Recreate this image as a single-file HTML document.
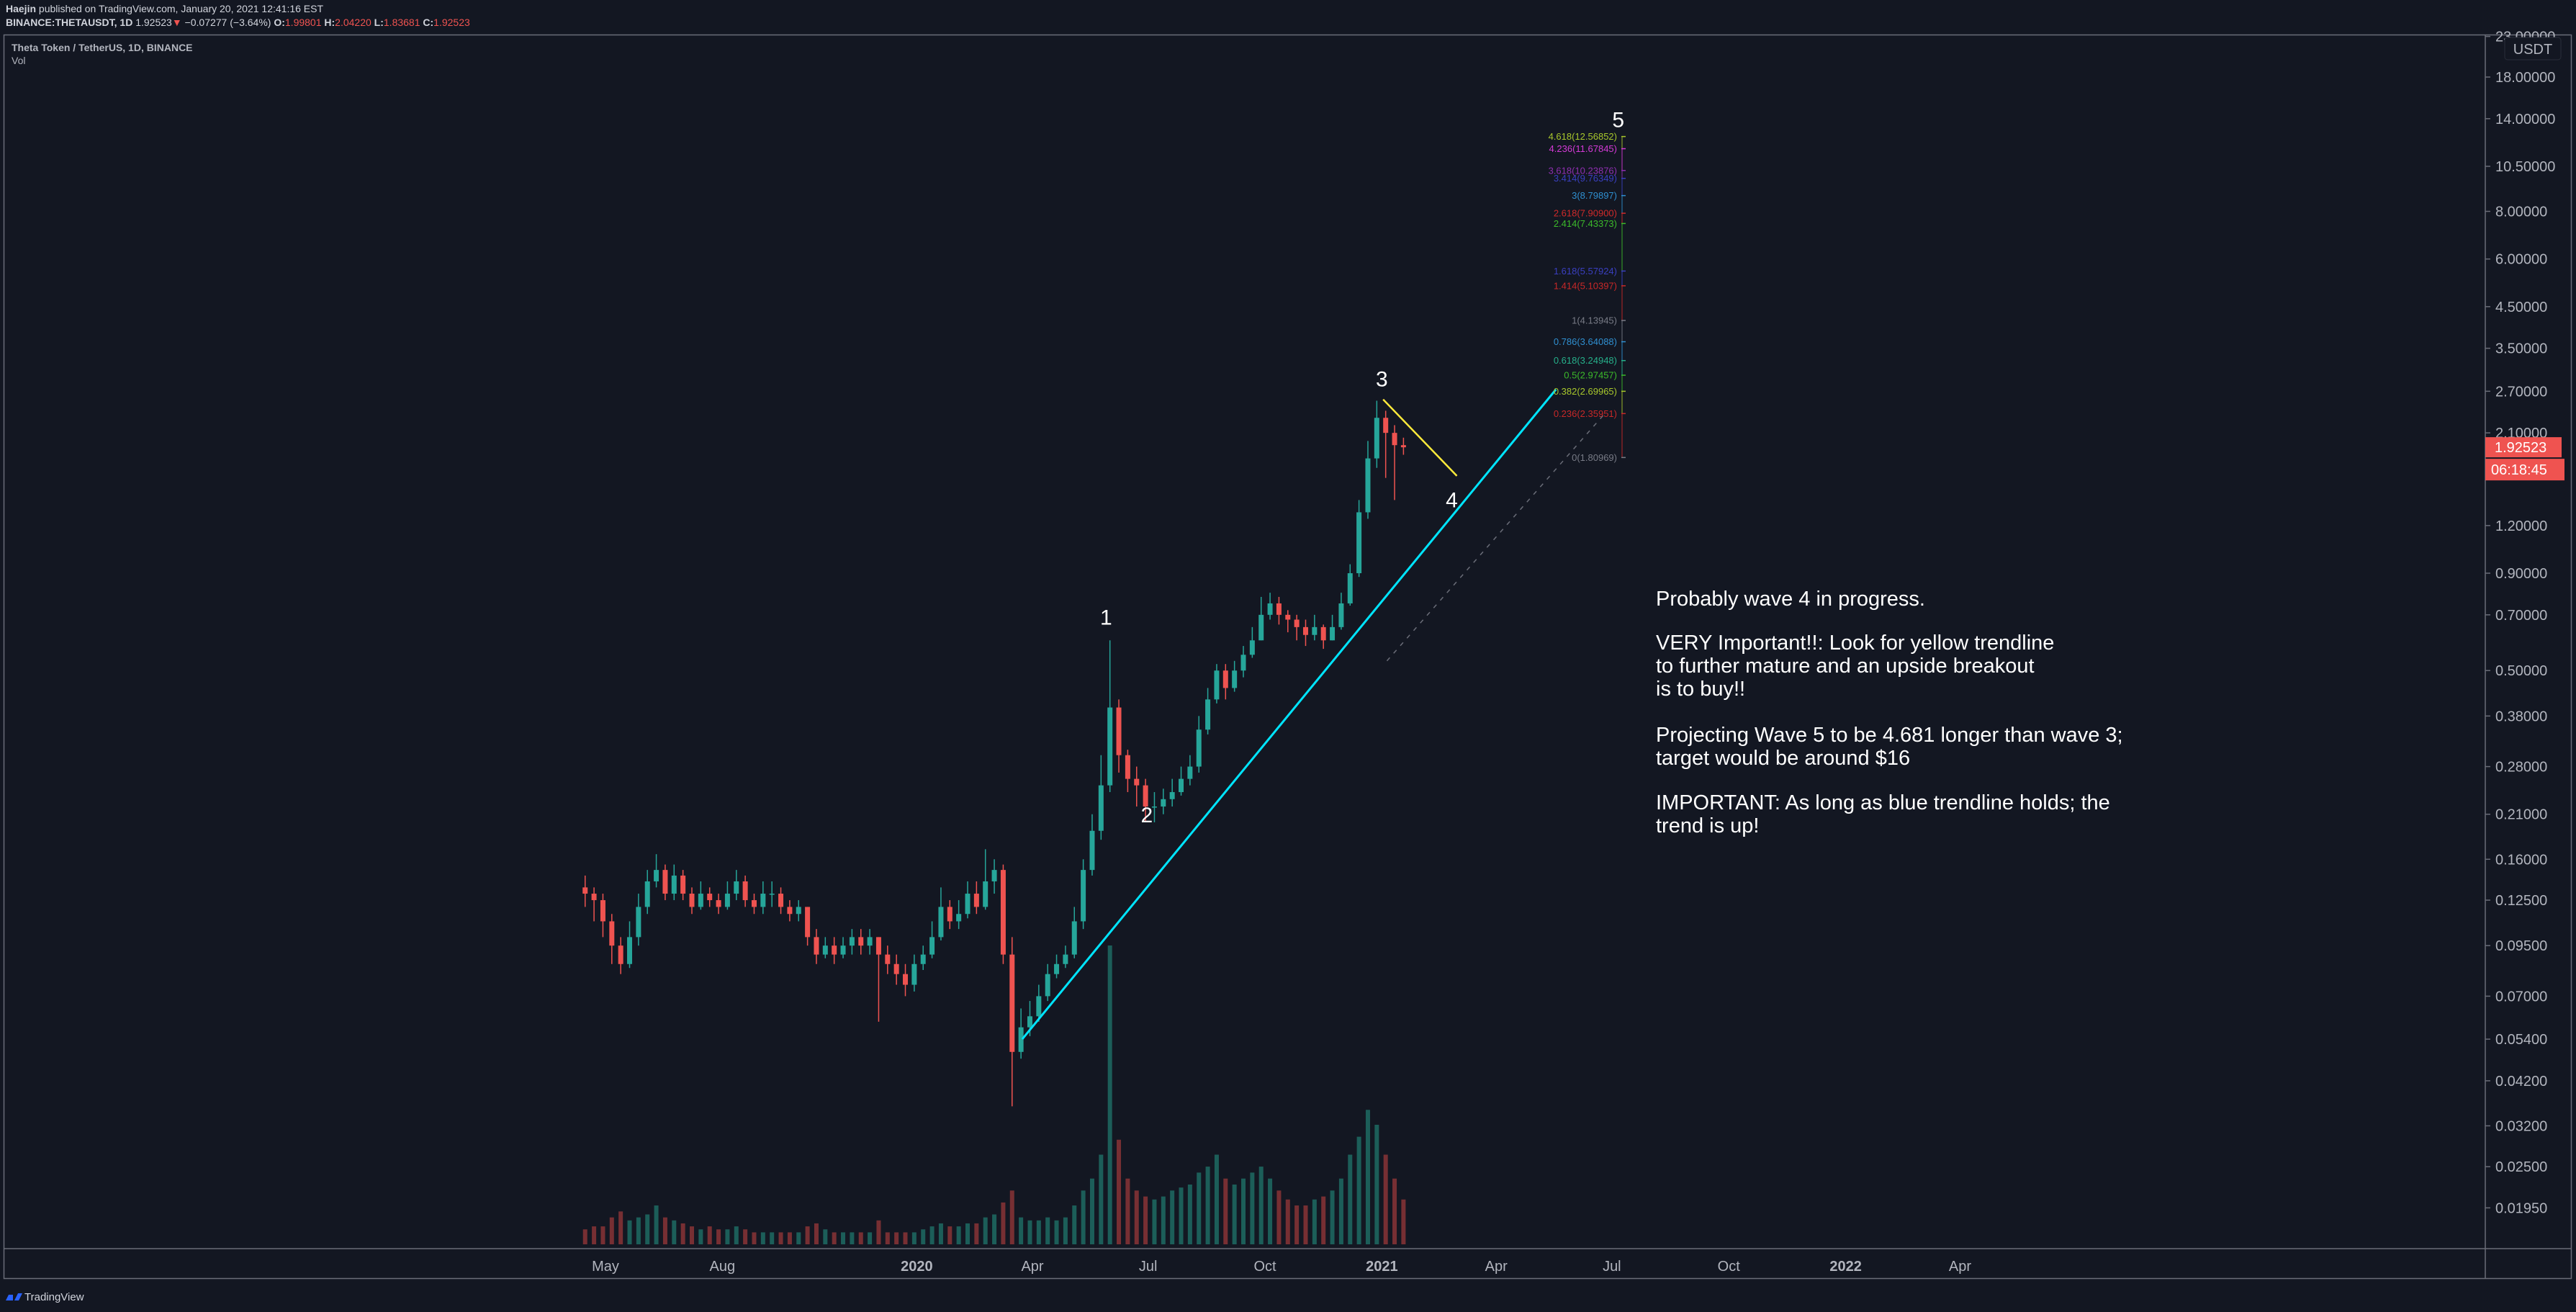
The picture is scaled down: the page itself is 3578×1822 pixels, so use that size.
<!DOCTYPE html>
<html><head><meta charset="utf-8"><style>
html,body{margin:0;padding:0;background:#131722;}
svg{display:block;font-family:"Liberation Sans",sans-serif;}
</style></head><body>
<svg id="chart" width="3578" height="1822" viewBox="0 0 3578 1822" xmlns="http://www.w3.org/2000/svg">
<rect x="0" y="0" width="3578" height="1822" fill="#131722"/>
<text x="8" y="17" font-size="14" fill="#d1d4dc"><tspan font-weight="bold">Haejin</tspan> published on TradingView.com, January 20, 2021 12:41:16 EST</text>
<text x="8" y="36" font-size="14" fill="#d1d4dc"><tspan font-weight="bold">BINANCE:THETAUSDT, 1D</tspan> 1.92523<tspan fill="#ef5350">▼</tspan> −0.07277 (−3.64%) <tspan font-weight="bold">O:</tspan><tspan fill="#ef5350">1.99801</tspan> <tspan font-weight="bold">H:</tspan><tspan fill="#ef5350">2.04220</tspan> <tspan font-weight="bold">L:</tspan><tspan fill="#ef5350">1.83681</tspan> <tspan font-weight="bold">C:</tspan><tspan fill="#ef5350">1.92523</tspan></text>
<rect x="5.5" y="48.5" width="3566" height="1727" fill="none" stroke="#6a6d78" stroke-width="1.5"/>
<line x1="3452" y1="49" x2="3452" y2="1775" stroke="#6a6d78" stroke-width="1.5"/>
<line x1="6" y1="1734" x2="3571" y2="1734" stroke="#6a6d78" stroke-width="1.5"/>
<text x="16" y="71" font-size="14" font-weight="bold" fill="#b2b5be">Theta Token / TetherUS, 1D, BINANCE</text>
<text x="16" y="89" font-size="14" fill="#b2b5be">Vol</text>
<g id="vol"></g>
<g id="candles"></g>
<g id="lines"></g>
<g id="fib"></g>
<g id="yaxis"></g>
<g id="xaxis"></g>
<g font-size="29" fill="#ffffff">
<text x="2300" y="841">Probably wave 4 in progress.</text>
<text x="2300" y="902">VERY Important!!: Look for yellow trendline</text>
<text x="2300" y="934">to further mature and an upside breakout</text>
<text x="2300" y="966">is to buy!!</text>
<text x="2300" y="1030">Projecting Wave 5 to be 4.681 longer than wave 3;</text>
<text x="2300" y="1062">target would be around $16</text>
<text x="2300" y="1124">IMPORTANT: As long as blue trendline holds; the</text>
<text x="2300" y="1156">trend is up!</text>
</g>
<g>
<path d="M8 1806 h10 v-8 h-6 z M20 1806 l5 -10 h6 l-5 10 z" fill="#2962ff"/>
<text x="34" y="1806" font-size="15" fill="#d1d4dc">TradingView</text>
</g>
</svg>
<script>
const closes=[0.13,0.125,0.11, 0.095,0.085,0.10,0.12, 0.14,0.15,0.13,0.145,0.13, 0.12,0.13,0.125,0.12, 0.13,0.14,0.125,0.12,0.13, 0.13,0.12,0.115,0.12, 0.10,0.09,0.095,0.09,0.095, 0.1,0.095,0.1,0.09, 0.085,0.08,0.075,0.085, 0.09,0.1,0.12,0.11, 0.115,0.13,0.12,0.14, 0.15,0.09,0.05,0.058,0.062, 0.07,0.08,0.085,0.09, 0.11,0.15,0.19,0.25, 0.4,0.3,0.26,0.25,0.22, 0.22,0.23,0.24,0.26, 0.28,0.35,0.42,0.5, 0.45,0.5,0.55,0.6,0.7, 0.75,0.7,0.68,0.65, 0.62,0.65,0.6,0.65, 0.75,0.9,1.3,1.8, 2.3,2.1,1.95,1.925];
const highs=[0.145,0.135,0.13, 0.115,0.1,0.11,0.13, 0.15,0.165,0.155,0.155,0.15, 0.135,0.14,0.135,0.13, 0.14,0.15,0.145,0.13,0.14, 0.14,0.135,0.125,0.125, 0.12,0.105,0.1,0.1,0.1, 0.105,0.105,0.105,0.1, 0.095,0.09,0.085,0.09, 0.095,0.11,0.135,0.125, 0.125,0.14,0.14,0.17, 0.16,0.155,0.1,0.065,0.068, 0.075,0.085,0.09,0.095, 0.12,0.16,0.21,0.3, 0.6,0.42,0.31,0.28,0.26, 0.24,0.245,0.26,0.28, 0.3,0.38,0.45,0.52, 0.52,0.53,0.58,0.65,0.78, 0.8,0.78,0.72,0.7, 0.68,0.7,0.66,0.7, 0.8,0.95,1.4,2.0, 2.55,2.4,2.2,2.04];
const lows=[0.12,0.11,0.1, 0.085,0.08,0.083,0.095, 0.115,0.135,0.125,0.125,0.125, 0.115,0.118,0.12,0.115, 0.118,0.125,0.12,0.115,0.115, 0.12,0.115,0.11,0.11, 0.095,0.085,0.088,0.085,0.088, 0.09,0.09,0.09,0.06, 0.08,0.075,0.07,0.072, 0.082,0.088,0.098,0.105, 0.105,0.112,0.115,0.118, 0.13,0.085,0.036,0.048,0.055, 0.06,0.068,0.078,0.083, 0.088,0.105,0.145,0.18, 0.24,0.27,0.24,0.22,0.2, 0.2,0.21,0.22,0.235, 0.25,0.27,0.34,0.41, 0.42,0.44,0.48,0.54,0.6, 0.68,0.66,0.63,0.6, 0.58,0.6,0.57,0.6, 0.64,0.74,0.88,1.25, 1.7,1.6,1.4,1.84];
const volumes=[5,6,6, 9,11,8,9, 10,13,9,8,7, 6,5,6,5, 5,6,5,4,4, 4,4,4,4, 6,7,5,4,4, 4,4,4,8, 4,4,4,4, 5,6,7,6, 6,7,7,9, 10,14,18,9,8, 8,9,8,9, 13,18,22,30, 100,35,22,18,16, 15,16,18,19, 20,24,26,30, 22,20,22,24,26, 22,18,15,13, 13,15,16,18, 22,30,36,45, 40,30,22,15];
const firstOpen=0.135;
const startDate="2019-04-12";
const priceTicks=[23,18,14,10.5,8,6,4.5,3.5,2.7,2.1,1.2,0.9,0.7,0.5,0.38,0.28,0.21,0.16,0.125,0.095,0.07,0.054,0.042,0.032,0.025,0.0195];
const timeLabels=["May","Aug","2020","Apr","Jul","Oct","2021","Apr","Jul","Oct","2022","Apr"];
const timeDates=["2019-05-01","2019-08-01","2020-01-01","2020-04-01","2020-07-01","2020-10-01","2021-01-01","2021-04-01","2021-07-01","2021-10-01","2022-01-01","2022-04-01"];
const fibRatios=["4.618","4.236","3.618","3.414","3","2.618","2.414","1.618","1.414","1","0.786","0.618","0.5","0.382","0.236","0"];
const fibPrices=[12.56852,11.67845,10.23876,9.76349,8.79897,7.90900,7.43373,5.57924,5.10397,4.13945,3.64088,3.24948,2.97457,2.69965,2.35951,1.80969];
const fibColors=["#a8c72c","#d43ad6","#8e2fb0","#3a3fc0","#2f8fd0","#d02a2a","#3cba2a","#3a3fc0","#c82828","#787b86","#2f8fd0","#26b08a","#3cba2a","#a8c72c","#c82828","#787b86"];
const blueLineDates=["2020-03-24","2021-05-18"];
const blueLinePrices=[0.054,2.73];
const yellowLineDates=["2021-01-02","2021-03-01"];
const yellowLinePrices=[2.57,1.62];
const dashLineDates=["2021-01-05","2021-06-24"];
const dashLinePrices=[0.53,2.33];
const waveLabels=["1","2","3","4","5"];
const waveDates=["2020-05-29","2020-06-30","2021-01-01","2021-02-25","2021-07-06"];
const wavePrices=[0.66,0.20,2.78,1.34,13.3];

const NS="http://www.w3.org/2000/svg";
const ORIGIN=Date.UTC(2020,0,1);
function dayOf(s){const p=s.split("-");return (Date.UTC(+p[0],+p[1]-1,+p[2])-ORIGIN)/86400000;}
function xOf(day){return 1273.4+1.765*day;}
function yOf(p){return 107+230*Math.log(18/p);}
const VOL_BASE=1728, VOL_MAX=415;
function vOf(v){return VOL_BASE-v/100*VOL_MAX;}
function mk(tag,attrs,parent){const e=document.createElementNS(NS,tag);for(const k in attrs)e.setAttribute(k,attrs[k]);parent.appendChild(e);return e;}

const gC=document.getElementById("candles"), gV=document.getElementById("vol");
const d0=dayOf(startDate);
for(let i=0;i<closes.length;i++){
  const o=i===0?firstOpen:closes[i-1], c=closes[i];
  const up=c>=o;
  const x=xOf(d0+7*i+3);
  const col=up?"#26a69a":"#ef5350";
  const w=mk("line",{x1:x,x2:x,y1:yOf(highs[i]),y2:yOf(lows[i]),stroke:col,"stroke-width":1.5},gC);
  
  
  const yt=yOf(Math.max(o,c)), yb=yOf(Math.min(o,c));
  const b=mk("rect",{x:x-3.5,y:yt,width:7,height:Math.max(1.5,yb-yt),fill:col},gC);
  
  
  const vb=mk("rect",{x:x-3,y:vOf(volumes[i]),width:6,height:VOL_BASE-vOf(volumes[i]),fill:up?"#1f6b63":"#8a3436",opacity:0.85},gV);
  
  
}

const gL=document.getElementById("lines");
function seg(dates,prices,col,wdt,dash,name){
  const a={x1:xOf(dayOf(dates[0])),y1:yOf(prices[0]),x2:xOf(dayOf(dates[1])),y2:yOf(prices[1]),stroke:col,"stroke-width":wdt};
  if(dash)a["stroke-dasharray"]=dash;
  const l=mk("line",a,gL);
  
  
}
seg(blueLineDates,blueLinePrices,"#00e5ff",3,null,"blue-trendline");
seg(yellowLineDates,yellowLinePrices,"#ffeb3b",2.5,null,"yellow-trendline");
seg(dashLineDates,dashLinePrices,"#6a6d78",1.5,"6 8","projection-line");
for(let i=0;i<waveLabels.length;i++){
  const t=mk("text",{x:xOf(dayOf(waveDates[i])),y:yOf(wavePrices[i]),"font-size":30,fill:"#ffffff","text-anchor":"middle"},gL);
  t.textContent=waveLabels[i];
  
  
}

const gF=document.getElementById("fib");
const fx=2253;
for(let i=0;i<fibPrices.length-1;i++){
  const s=mk("line",{x1:fx,x2:fx,y1:yOf(fibPrices[i]),y2:yOf(fibPrices[i+1]),stroke:fibColors[i],"stroke-width":2,opacity:0.45},gF);
  
  
}
for(let i=0;i<fibPrices.length;i++){
  const y=yOf(fibPrices[i]);
  const tk=mk("line",{x1:fx-1,x2:fx+5,y1:y,y2:y,stroke:fibColors[i],"stroke-width":1.5},gF);
  
  
  const t=mk("text",{x:fx-7,y:y+4.5,"font-size":13,fill:fibColors[i],"text-anchor":"end"},gF);
  t.textContent=fibRatios[i]+"("+fibPrices[i].toFixed(5)+")";
  
  
}

const gY=document.getElementById("yaxis");
for(let i=0;i<priceTicks.length;i++){
  const y=yOf(priceTicks[i]);
  if(y<40)continue;
  const tk=mk("line",{x1:3452,x2:3459,y1:y,y2:y,stroke:"#6a6d78","stroke-width":1.5},gY);
  
  
  const t=mk("text",{x:3466,y:y+7,"font-size":20,fill:"#b2b5be"},gY);
  t.textContent=priceTicks[i].toFixed(5);
  
  
}
const cur=mk("rect",{x:3452,y:yOf(1.92523)-14,width:106,height:28,fill:"#ef5350"},gY);


const ct=mk("text",{x:3465,y:yOf(1.92523)+7,"font-size":20,fill:"#ffffff"},gY);
ct.textContent="1.92523";


const tm=mk("rect",{x:3452,y:yOf(1.92523)+16,width:110,height:30,fill:"#ef5350"},gY);


const tt=mk("text",{x:3460,y:yOf(1.92523)+38,"font-size":20,fill:"#ffffff"},gY);
tt.textContent="06:18:45";


const ub=mk("rect",{x:3479,y:52,width:78,height:31,rx:4,fill:"#131722",stroke:"#2a2e39"},gY);


const ut=mk("text",{x:3518,y:75,"font-size":20,fill:"#b2b5be","text-anchor":"middle"},gY);
ut.textContent="USDT";



const gX=document.getElementById("xaxis");
for(let i=0;i<timeLabels.length;i++){
  const x=xOf(dayOf(timeDates[i]));
  const bold=/^\d{4}$/.test(timeLabels[i]);
  const t=mk("text",{x:x,y:1765,"font-size":20,fill:"#b2b5be","text-anchor":"middle","font-weight":bold?"bold":"normal"},gX);
  t.textContent=timeLabels[i];
  
  
}
</script>
</body></html>
